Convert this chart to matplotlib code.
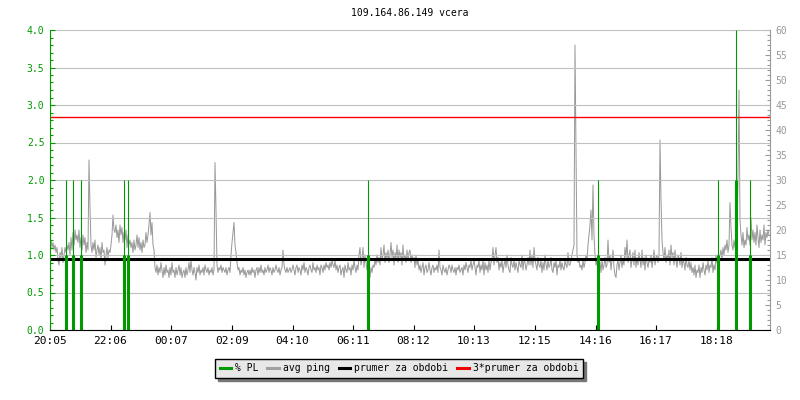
import matplotlib
matplotlib.use('Agg')
import matplotlib.pyplot as plt
from matplotlib.lines import Line2D
from matplotlib.ticker import MultipleLocator, FormatStrFormatter
import numpy as np

plt.rcParams['font.family'] = ['DejaVu Sans Mono']
plt.rcParams['font.size'] = 7

TITLE = '109.164.86.149 vcera'
STEP_MIN = 2  # minuty mezi vzorky

# avg ping [ms], jeden vzorek za 2 minuty od 20:05
ping_ms = [
    17, 18, 16.5, 17.5, 16, 17, 15.5, 16.5, 14, 13, 15.5, 14.5, 16.5, 13.5, 15, 16.5, 15.5, 17, 16, 17.5,
    15, 18.5, 16, 19.5, 17, 20, 18, 19, 17.5, 20, 16.5, 18.5, 16, 19, 17, 18.5, 15.5, 17.5, 16, 34,
    24.5, 17, 15.5, 17.5, 16, 18, 14.5, 16, 17, 15, 16.5, 14, 17.5, 15.5, 16, 13, 15, 16.5, 14.5, 16,
    15.5, 17, 19, 23, 20, 19.5, 21, 18.5, 20, 17.5, 21, 19, 20.5, 17.5, 19.5, 18, 20, 16.5, 19, 17,
    18, 16.5, 17.5, 15.5, 18, 16, 17, 19, 16.5, 18.5, 16, 17.5, 15.5, 18, 16.5, 17, 19.5, 17.5, 19, 21,
    23.5, 19, 21.5, 17, 16, 12.5, 11.5, 13, 11, 12.5, 11.5, 13.5, 12, 10.5, 12.5, 11, 13, 11.5, 12, 10.5,
    12.5, 11, 13.5, 11.5, 12, 10.5, 12.5, 11, 12, 13, 11, 12.5, 10.5, 11.5, 12, 10.5, 12.5, 11, 12, 13.5,
    11.5, 14, 12, 11, 12.5, 11.5, 10, 12.5, 11.5, 13, 11, 12, 11.5, 12.5, 11, 13, 12, 11.5, 12.5, 11,
    12, 11.5, 12.5, 11, 12, 33.5, 24, 13, 11.5, 12.5, 12, 13, 11.5, 12.5, 12, 11.5, 12.5, 11, 12, 12.5,
    11.5, 15, 17.5, 19.5, 21.5, 17, 15.5, 13.5, 12, 12.5, 11, 12, 11.5, 12.5, 11, 12, 10.5, 11.5, 12, 11,
    12, 11, 12.5, 11.5, 12, 10.5, 12, 12.5, 11, 12.5, 11.5, 13, 11.5, 12, 11, 12.5, 11.5, 12, 13, 11.5,
    12.5, 12, 11, 12.5, 11.5, 12, 13, 12, 11.5, 12.5, 11, 12, 12.5, 16, 13, 12, 11.5, 12.5, 11.5, 12,
    12.5, 11.5, 12, 13, 12, 11, 12.5, 13, 11.5, 12.5, 12, 11, 13, 12, 13.5, 11.5, 12.5, 12, 11, 12.5,
    13, 12, 11.5, 13.5, 12, 12.5, 11.5, 13, 12, 12.5, 11, 13, 12.5, 11.5, 13, 12, 13.5, 12.5, 13, 12,
    13.5, 12.5, 14, 13, 12.5, 14, 12, 13, 11.5, 12.5, 13, 11, 12, 12.5, 10.5, 13, 12, 11.5, 13.5, 12,
    12.5, 11, 13, 12, 14, 12.5, 11.5, 13, 12, 15, 16.5, 13, 14, 16.5, 12.5, 15, 13.5, 12, 14, 11,
    10.5, 12.5, 11.5, 13, 12.5, 14, 13, 15, 13.5, 14.5, 13, 16.5, 14, 15, 17, 13.5, 15.5, 14, 16, 13.5,
    15, 17.5, 14.5, 16, 13, 15.5, 14, 17, 13.5, 16, 14.5, 15.5, 13, 17, 14, 15, 13.5, 16, 14, 15.5,
    16, 13.5, 15, 14, 14.5, 12.5, 15, 13, 14, 12, 13, 11.5, 12.5, 13.5, 11, 12.5, 13, 11.5, 12, 13.5,
    12, 11, 12.5, 13, 11.5, 12.5, 12, 13, 11.5, 16, 12.5, 12, 11, 13, 12, 11.5, 12.5, 11, 12, 13,
    12.5, 11.5, 13, 12, 11.5, 12.5, 11, 12.5, 12, 13, 11.5, 12, 12.5, 11, 13, 12, 13.5, 12.5, 11.5, 13,
    12.5, 14, 12, 13, 14, 12.5, 11, 13, 12.5, 14, 11.5, 13, 12, 14, 11, 13.5, 12, 13, 11.5, 14,
    12, 13.5, 14, 16.5, 13, 15, 16.5, 13.5, 14.5, 12, 13.5, 12.5, 14, 11.5, 13, 14, 12.5, 15, 13, 12,
    11.5, 14.5, 13, 12.5, 14, 12, 13.5, 12.5, 11.5, 14, 13, 12.5, 15, 12, 14, 13.5, 12, 13, 14.5, 13,
    16, 13, 15, 12.5, 16.5, 14, 13, 12, 14.5, 13, 12.5, 14, 11.5, 13.5, 12, 15, 13, 12, 14, 12.5,
    13, 14.5, 12, 11.5, 13.5, 12.5, 14, 11, 13, 12.5, 14, 12, 13.5, 12.5, 12, 14, 13, 12.5, 15.5, 13,
    13, 14, 15, 16, 17, 57, 36, 15, 13.5, 14, 12.5, 13, 12, 14, 12.5, 13.5, 15, 14, 17, 19,
    21, 24, 18, 29, 19, 15, 13, 14, 11, 12.5, 13.5, 11.5, 14, 12, 13, 14.5, 12.5, 13, 18, 13.5,
    15, 12, 14, 16, 12.5, 11, 10.5, 13, 14, 12, 13.5, 15, 12.5, 14, 13, 16.5, 14.5, 18, 13.5, 15,
    16, 12.5, 14, 15.5, 13, 16, 12.5, 14.5, 13, 15.5, 14, 12.5, 16, 13, 14.5, 12, 15, 13.5, 12.5, 14,
    13.5, 15, 12.5, 14, 16, 13, 14.5, 15, 13.5, 15, 38, 26, 18, 15.5, 14, 16.5, 13.5, 15, 14, 16,
    13, 17, 14.5, 15.5, 13, 16, 14, 12.5, 15, 14.5, 13, 15.5, 12.5, 14, 13.5, 12, 14.5, 13, 12.5, 14,
    12, 13.5, 11.5, 12.5, 11, 13, 10.5, 12, 11.5, 13, 10.5, 12.5, 11.5, 13.5, 12, 11, 13, 12, 14, 11.5,
    13, 12.5, 14.5, 11.5, 13, 12, 15, 13.5, 12.5, 14, 15, 16, 14, 16.5, 15, 17, 16, 18, 15.5, 17,
    25.5, 20.5, 17, 16, 18, 16.5, 19, 17.5, 31, 48, 22, 19, 17, 19.5, 16.5, 18, 17, 20.5, 18, 19,
    17, 22.5, 18, 20, 17.5, 19.5, 17, 21, 18.5, 16.5, 20, 17.5, 19, 18, 21, 17, 19.5, 18.5, 20, 19,
]
assert len(ping_ms) == 720

# packet loss: cas [min od 20:05], prumer a maximum [%]
pl_time = [32, 45, 62, 148, 155, 635, 1096, 1336, 1372, 1400]
pl_avg = [1, 1, 1, 1, 1, 1, 1, 1, 2, 1]
pl_max = [2, 2, 2, 2, 2, 2, 2, 2, 4, 2]

mean_ms = 14.2

tick_min = [0, 121, 242, 364, 485, 606, 727, 848, 970, 1091, 1212, 1333]
tick_lbl = ['20:05', '22:06', '00:07', '02:09', '04:10', '06:11',
            '08:12', '10:13', '12:15', '14:16', '16:17', '18:18']

GREEN = '#009900'
GRAY = '#999999'

fig = plt.figure(figsize=(8, 4), dpi=100)
ax = fig.add_axes([50/800, 70/400, 720/800, 300/400])
ax2 = ax.twinx()
ax.set_zorder(ax2.get_zorder() + 1)
ax.patch.set_visible(False)

t = np.arange(len(ping_ms)) * STEP_MIN
ax2.plot(t, ping_ms, color=GRAY, lw=0.72)
ax2.axhline(mean_ms, color='black', lw=2.2)
ax2.axhline(3 * mean_ms, color='#ff0000', lw=1.0, snap=True)

ax.vlines(pl_time, 0, pl_max, color=GREEN, lw=0.8)
ax.vlines(pl_time, 0, pl_avg, color=GREEN, lw=2.2)

ax.set_xlim(0, 1440)
ax.set_ylim(0, 4)
ax2.set_ylim(0, 60)

ax.grid(axis='y', color='#c0c0c0', lw=0.8)
ax.set_axisbelow(True)

# osy
for a in (ax, ax2):
    a.spines['top'].set_visible(False)
ax.spines['left'].set_color(GREEN)
ax.spines['right'].set_visible(False)
ax2.spines['left'].set_visible(False)
ax2.spines['right'].set_color(GRAY)
ax2.spines['bottom'].set_visible(False)

ax.yaxis.set_major_locator(MultipleLocator(0.5))
ax.yaxis.set_minor_locator(MultipleLocator(0.1))
ax.yaxis.set_major_formatter(FormatStrFormatter('%.1f'))
ax.tick_params(axis='y', which='major', direction='in', length=3.6, width=0.8,
               color=GREEN, labelcolor=GREEN, pad=4)
ax.tick_params(axis='y', which='minor', direction='in', length=2.2, width=0.8, color=GREEN)

ax2.yaxis.set_major_locator(MultipleLocator(5))
ax2.yaxis.set_minor_locator(MultipleLocator(1))
ax2.tick_params(axis='y', which='major', direction='in', length=3.6, width=0.8,
                color=GRAY, labelcolor=GRAY, pad=4)
ax2.tick_params(axis='y', which='minor', direction='in', length=2.2, width=0.8, color=GRAY)

ax.set_xticks(tick_min)
ax.set_xticklabels(tick_lbl, fontsize=8)
ax.tick_params(axis='x', direction='in', length=3.6, width=0.8, pad=4)

fig.text(410/800, 1 - 13/400, TITLE, ha='center', va='center', fontsize=7)

handles = [Line2D([], [], color=GREEN, lw=2.2),
           Line2D([], [], color='#a0a0a0', lw=2.2),
           Line2D([], [], color='black', lw=2.2),
           Line2D([], [], color='#ee0000', lw=2.2)]
labels = ['% PL', 'avg ping', 'prumer za obdobi', '3*prumer za obdobi']
fig.legend(handles, labels, loc='upper center', bbox_to_anchor=(399/800, 1 - 359/400),
           ncol=4, frameon=True, fancybox=False, facecolor='#e8e8e8', edgecolor='black',
           framealpha=1, shadow={'color': '#777777', 'alpha': 1},
           handlelength=1.2, handletextpad=0.4, columnspacing=0.9,
           borderpad=0.45, borderaxespad=0)

plt.savefig('out.png', dpi=100)
plt.close()
